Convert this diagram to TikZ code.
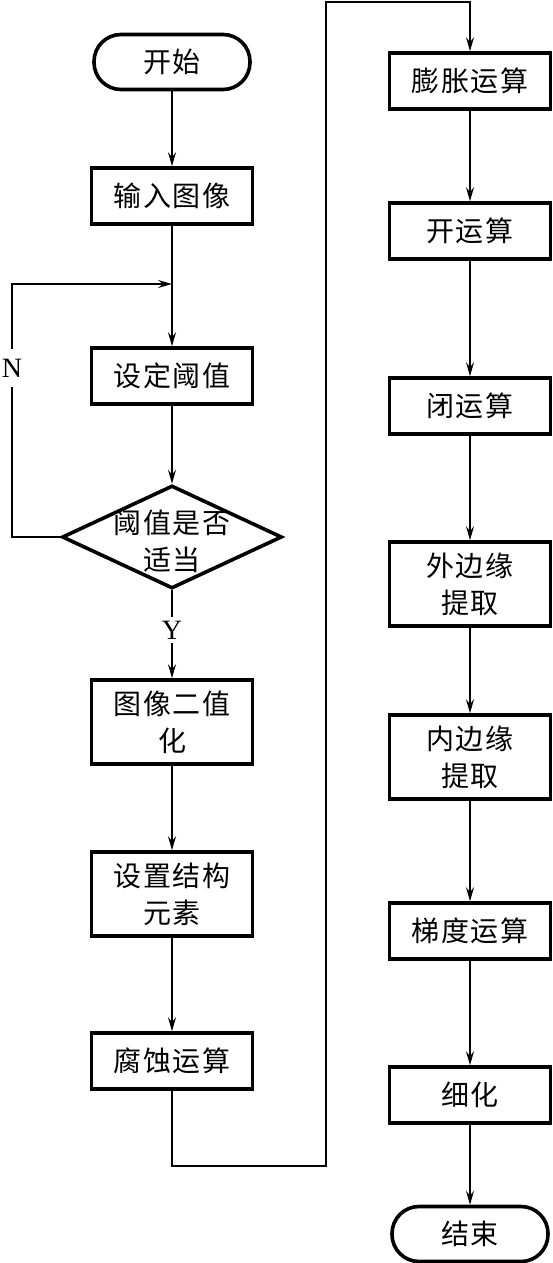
\documentclass[tikz,border=0pt]{standalone}
\usepackage{fontspec}
\usepackage{tikz}
\usetikzlibrary{arrows.meta, shapes.geometric}
\setmainfont{Liberation Serif}
\newfontfamily\cjk[LetterSpace=5]{Noto Sans CJK SC}
\def\colL{172}
\def\colR{470}

\begin{document}
\begin{tikzpicture}[x=1pt, y=-1pt,
    box/.style={draw, line width=3.6pt, minimum width=161pt, minimum height=56pt,
      inner sep=0pt, align=center, font=\cjk\fontsize{28pt}{37pt}\selectfont},
    tallbox/.style={box, minimum height=84pt},
    term/.style={box, minimum width=156pt, minimum height=55pt, rounded corners=27pt},
    lbl/.style={inner sep=10pt, font=\fontsize{28pt}{28pt}\selectfont},
    arr/.style={line width=1.5pt, -{Stealth[length=14pt, width=8pt, inset=5pt]}},
    ln/.style={line width=1.5pt}]
  \useasboundingbox (0,0) rectangle (553,1263);

  % left column
  \node[term] (start) at (\colL,62) {开始};
  \node[box] (input) at (\colL,196) {输入图像};
  \node[box] (thresh) at (\colL,376) {设定阈值};
  \node[diamond, draw, line width=3.6pt, minimum width=220pt, minimum height=103pt,
    inner sep=0pt] (judge) at (\colL,537) {};
  \node[align=center, font=\cjk\fontsize{28pt}{37pt}\selectfont] (judgetxt)
    at (\colL,541) {阈值是否\\适当};
  \node[tallbox] (binar) at (\colL,722) {图像二值\\化};
  \node[tallbox] (elem) at (\colL,894) {设置结构\\元素};
  \node[box] (erode) at (\colL,1061) {腐蚀运算};

  % right column
  \node[box] (dilate) at (\colR,81) {膨胀运算};
  \node[box] (open) at (\colR,231) {开运算};
  \node[box] (close) at (\colR,406) {闭运算};
  \node[tallbox] (outer) at (\colR,584) {外边缘\\提取};
  \node[tallbox] (inner) at (\colR,757) {内边缘\\提取};
  \node[box] (grad) at (\colR,931) {梯度运算};
  \node[box] (thin) at (\colR,1095) {细化};
  \node[term] (stop) at (\colR,1234) {结束};

  \node[lbl] (nlab) at (12,368) {N};
  \node[lbl, inner sep=4pt] (ylab) at (\colL,630) {Y};
  \coordinate (loopin) at (\colL,284);
  \coordinate (down) at (326,1166);
  \coordinate (up) at (326,2);

  \draw[arr] (start) -- (input);
  \draw[ln] (input) -- (loopin);
  \draw[arr] (loopin) -- (thresh);
  \draw[arr] (thresh) -- (judge);
  \draw[ln] (judge.west) -| (nlab.south);
  \draw[arr] (nlab.north) |- (loopin);
  \draw[ln] (judge.south) -- (ylab.north);
  \draw[arr] (ylab.south) -- (binar);
  \draw[arr] (binar) -- (elem);
  \draw[arr] (elem) -- (erode);
  \draw[arr] (erode.south) |- (down) -- (up) -| (dilate.north);

  \draw[arr] (dilate) -- (open);
  \draw[arr] (open) -- (close);
  \draw[arr] (close) -- (outer);
  \draw[arr] (outer) -- (inner);
  \draw[arr] (inner) -- (grad);
  \draw[arr] (grad) -- (thin);
  \draw[arr] (thin) -- (stop);
\end{tikzpicture}
\end{document}
